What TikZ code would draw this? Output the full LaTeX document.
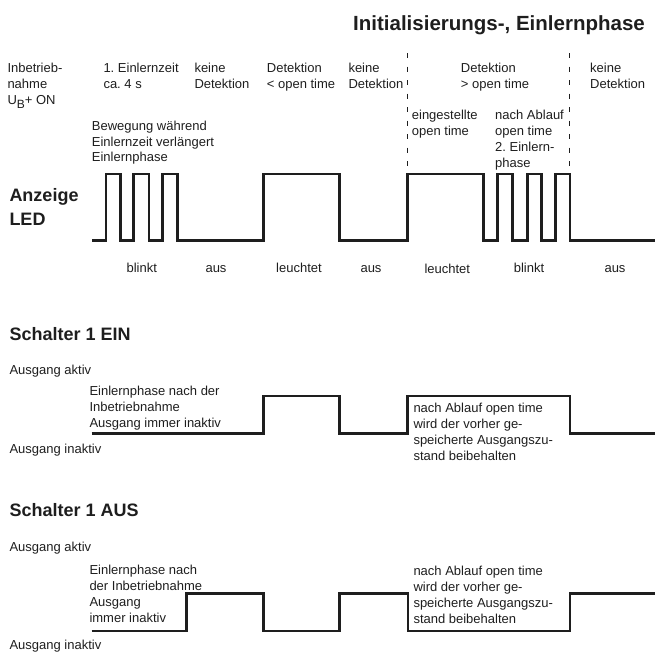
\documentclass[tikz,border=0pt]{standalone}
\usepackage{fontspec}
\setmainfont{Liberation Sans}
\frenchspacing
\definecolor{ink}{HTML}{1E1E1E}
\tikzset{
  lbl/.style={anchor=base west, inner sep=0pt, align=left, font=\fontsize{13}{16}\selectfont\frenchspacing, text=ink},
  clbl/.style={anchor=base, inner sep=0pt, font=\fontsize{13}{16}\selectfont, text=ink},
  head/.style={anchor=base west, inner sep=0pt, align=left, font=\fontsize{18}{23.3}\selectfont\bfseries, text=ink},
  wave/.style={line width=2.6pt, draw=ink, line join=miter},
  phaseline/.style={line width=0.7pt, draw=ink, dash pattern=on 5pt off 8.5pt},
}
\begin{document}
\begin{tikzpicture}[x=1pt,y=-1pt]
\useasboundingbox (0,0) rectangle (655,651);

% title
\node[anchor=base east, inner sep=0pt, font=\fontsize{20.5}{24}\selectfont\bfseries, text=ink] (title) at (645,30.7) {Initialisierungs-, Einlernphase};

% phase labels (anchor = baseline of last line)
\node[lbl] (ub) at (7.3,104.7) {Inbetrieb-\\nahme\\U\raisebox{-4pt}{\fontsize{12}{14}\selectfont B}+ ON};
\node[lbl] (p1) at (103.3,88.7) {1. Einlernzeit\\ca. 4 s};
\node[lbl] (p2) at (194.3,88.7) {keine\\Detektion};
\node[lbl] (p3) at (266.7,88.7) {Detektion\\< open time};
\node[lbl] (p4) at (348.3,88.7) {keine\\Detektion};
\node[lbl] (p5) at (460.7,88.7) {Detektion\\> open time};
\node[lbl] (p6) at (590,88.7) {keine\\Detektion};
\node[lbl] (p5a) at (411.7,135) {eingestellte\\open time};
\node[lbl] (p5b) at (495,167) {nach Ablauf\\open time\\2. Einlern-\\phase};
\node[lbl, font=\fontsize{13}{15.5}\selectfont] (bew) at (91.7,161.5) {Bewegung während\\Einlernzeit verlängert\\Einlernphase};

% dashed phase separators
\coordinate (d1t) at (407.3,53);
\coordinate (d1b) at (407.3,168);
\coordinate (d2t) at (569.3,53);
\coordinate (d2b) at (569.3,168);
\draw[phaseline] (d1t) -- (d1b);
\draw[phaseline] (d2t) -- (d2b);

% LED
\node[head] (led) at (9.3,225) {Anzeige\\LED};
\draw[wave] (92,240.7) -- (106,240.7) -- (106,174) -- (120.7,174) -- (120.7,240.7)
  -- (133.3,240.7) -- (133.3,174) -- (149,174) -- (149,240.7)
  -- (162.7,240.7) -- (162.7,174) -- (177.7,174) -- (177.7,240.7)
  -- (263.5,240.7) -- (263.5,174) -- (339.7,174) -- (339.7,240.7)
  -- (407.3,240.7) -- (407.3,174) -- (483.3,174) -- (483.3,240.7)
  -- (497.7,240.7) -- (497.7,174) -- (512.7,174) -- (512.7,240.7)
  -- (527.3,240.7) -- (527.3,174) -- (541.7,174) -- (541.7,240.7)
  -- (555.7,240.7) -- (555.7,174) -- (570,174) -- (570,240.7)
  -- (656,240.7);
\node[clbl] (s1) at (141.7,272) {blinkt};
\node[clbl] (s2) at (216,272) {aus};
\node[clbl] (s3) at (299,272) {leuchtet};
\node[clbl] (s4) at (371,272) {aus};
\node[clbl] (s5) at (447.3,273) {leuchtet};
\node[clbl] (s6) at (529,272) {blinkt};
\node[clbl] (s7) at (615,272) {aus};

% Schalter 1 EIN
\node[head] (ein) at (9.3,340.7) {Schalter 1 EIN};
\node[lbl] (einA) at (9.3,374.5) {Ausgang aktiv};
\node[lbl] (einI) at (9.3,453) {Ausgang inaktiv};
\node[lbl] (einT1) at (89.3,427) {Einlernphase nach der\\Inbetriebnahme\\Ausgang immer inaktiv};
\node[lbl] (einT2) at (413.3,460) {nach Ablauf open time\\wird der vorher ge-\\speicherte Ausgangszu-\\stand beibehalten};
\draw[wave] (91.7,433.3) -- (263.5,433.3) -- (263.5,396) -- (339.7,396) -- (339.7,433.3)
  -- (407.5,433.3) -- (407.5,396) -- (570,396) -- (570,433.3) -- (656,433.3);

% Schalter 1 AUS
\node[head] (aus) at (9.3,516.5) {Schalter 1 AUS};
\node[lbl] (ausA) at (9.3,551.3) {Ausgang aktiv};
\node[lbl] (ausI) at (9.3,649.7) {Ausgang inaktiv};
\node[lbl] (ausT1) at (89.3,622) {Einlernphase nach\\der Inbetriebnahme\\Ausgang\\immer inaktiv};
\node[lbl] (ausT2) at (413.3,623.5) {nach Ablauf open time\\wird der vorher ge-\\speicherte Ausgangszu-\\stand beibehalten};
\draw[wave] (91.7,631) -- (186.7,631) -- (186.7,593.3) -- (263.5,593.3) -- (263.5,631)
  -- (339.7,631) -- (339.7,593.3) -- (407.8,593.3) -- (407.8,631) -- (570,631)
  -- (570,593.3) -- (656,593.3);
\end{tikzpicture}
\end{document}
